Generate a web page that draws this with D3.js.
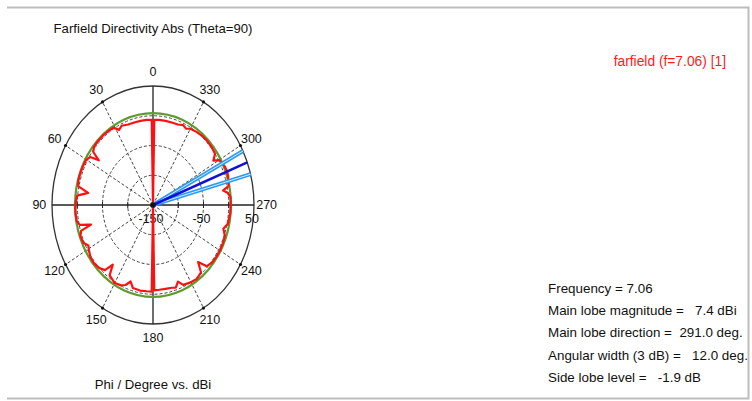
<!DOCTYPE html>
<html>
<head>
<meta charset="utf-8">
<script src="https://cdn.jsdelivr.net/npm/d3@7"></script>
<style>
  body { margin: 0; background: #fff; }
  text { font-family: "Liberation Sans", Arial, sans-serif; fill: #111; }
</style>
</head>
<body>
<svg id="chart"></svg>
<script>
// farfield cut, phi in degrees (counter-clockwise from top), directivity in dBi
const phiDeg = [0, 1, 5, 10, 15, 20, 25, 28, 31, 35, 40, 45, 50, 53, 55, 57, 60, 65, 70, 75, 78, 81, 84, 90,
  95, 100, 103, 105, 107, 110, 115, 118, 121, 125, 130, 135, 139, 141.5, 144, 150, 155, 158, 161, 164, 170, 175, 179, 180,
  181, 185, 190, 195, 198, 201, 204, 210, 215, 220, 223, 226, 230, 235, 240, 245, 250, 254, 258, 265, 270,
  275, 278, 280, 282, 285, 288, 291, 294, 297, 300, 302, 305, 310, 315, 320, 325, 330, 333, 336, 340, 345, 350, 355, 359, 360];
const directivityDb = [-150, -7, -6.5, -6.5, -6.5, -6, -3, -7, 1.5, 2.5, 3, 3, 2.5, -2, -19, -2, 2.5, 3.5, 3.5, 3.5, 1, -20, 1, 4,
  4, 3.5, -1, -23, -1, 3, 1.5, -5, -2, 1.5, 2.5, 0, -5, -22, -4, 1.5, -1, -5, -14, -5, -4, -4.5, -4.5, -150,
  -6.5, -7, -7, -6, -4, -12, -3, 0, 1.5, -2, -19, -2, 1.5, 2.5, 3, 2.5, 1.5, -5, 1.5, 3.5, 4,
  4, -1, -9, 3, 4.4, 6.5, 7.4, 6.5, 4.4, 1, -9, 0, 1.5, 2, 1.5, 0, -2, -6, -3, -6, -6.5, -6.5, -6.5, -7, -150];

const mainLobeDir = 291.0;
const beamEdges = [285, 297];      // 3 dB angular width limits
const halfPowerLevel = 4.4;        // main lobe - 3 dB
const angleTicks = [0, 30, 60, 90, 120, 150, 180, 210, 240, 270, 300, 330];
const radialTicks = [-150, -100, -50, 0, 50];
const radialLabels = [-150, -50, 50];
const infoLines = ["Frequency = 7.06", "Main lobe magnitude =   7.4 dBi", "Main lobe direction =  291.0 deg.",
  "Angular width (3 dB) =   12.0 deg.", "Side lobe level =   -1.9 dB"];

const W = 752, H = 401;
const cx = 153, cy = 205, rx = 101, ry = 119;

const svg = d3.select("#chart").attr("width", W).attr("height", H);

const r = d3.scaleLinear().domain([-150, 50]).range([0, 1]).clamp(true);
const px = (phi, f) => cx - rx * f * Math.sin(phi * Math.PI / 180);
const py = (phi, f) => cy - ry * f * Math.cos(phi * Math.PI / 180);

// frame
svg.append("path")
  .attr("d", `M7,7.5 H748.5 V398.5 H7`)
  .attr("fill", "none").attr("stroke", "#bdbdbd").attr("stroke-width", 2);

const g = svg.append("g");

// dashed grid ellipses
g.selectAll(".grid")
  .data(radialTicks.slice(1, -1))
  .enter().append("ellipse")
  .attr("cx", cx).attr("cy", cy)
  .attr("rx", d => rx * r(d)).attr("ry", d => ry * r(d))
  .attr("fill", "none").attr("stroke", "#444").attr("stroke-width", 1)
  .attr("stroke-dasharray", "3,2");

// dashed spokes
g.selectAll(".spoke")
  .data(angleTicks.filter(a => a % 90 !== 0))
  .enter().append("line")
  .attr("x1", cx).attr("y1", cy)
  .attr("x2", d => px(d, 1)).attr("y2", d => py(d, 1))
  .attr("stroke", "#444").attr("stroke-width", 1)
  .attr("stroke-dasharray", "3,2");

// outer ellipse
g.append("ellipse")
  .attr("cx", cx).attr("cy", cy).attr("rx", rx).attr("ry", ry)
  .attr("fill", "none").attr("stroke", "#333").attr("stroke-width", 1.3);

// solid axes
[0, 90].forEach(a => {
  g.append("line")
    .attr("x1", px(a, 1)).attr("y1", py(a, 1))
    .attr("x2", px(a + 180, 1)).attr("y2", py(a + 180, 1))
    .attr("stroke", "#222").attr("stroke-width", 1.3);
});

// ticks on horizontal axis
g.selectAll(".rtick")
  .data(radialTicks.slice(1, -1).flatMap(d => [[90, d], [270, d]]))
  .enter().append("line")
  .attr("x1", d => px(d[0], r(d[1]))).attr("x2", d => px(d[0], r(d[1])))
  .attr("y1", cy - 3).attr("y2", cy + 3)
  .attr("stroke", "#222").attr("stroke-width", 1);

// dots on outer ring at spokes
g.selectAll(".dot")
  .data(angleTicks.filter(a => a % 90 !== 0))
  .enter().append("circle")
  .attr("cx", d => px(d, 1)).attr("cy", d => py(d, 1)).attr("r", 1.6)
  .attr("fill", "#111");

// angle labels
g.selectAll(".alab")
  .data(angleTicks)
  .enter().append("text")
  .attr("x", d => px(d, 1.125)).attr("y", d => py(d, 1.115))
  .attr("text-anchor", "middle").attr("dominant-baseline", "central")
  .style("font-size", "12.5px")
  .text(d => d);

// radial labels
g.selectAll(".rlab")
  .data(radialLabels)
  .enter().append("text")
  .attr("x", d => px(270, r(d)) - 2).attr("y", cy + 18)
  .attr("text-anchor", "middle")
  .style("font-size", "12.5px")
  .text(d => d);

// half power level
g.append("ellipse")
  .attr("cx", cx).attr("cy", cy)
  .attr("rx", rx * r(halfPowerLevel)).attr("ry", ry * r(halfPowerLevel))
  .attr("fill", "none").attr("stroke", "#5f9a2e").attr("stroke-width", 2.2);

// farfield curve
const pts = phiDeg.map((p, i) => [p, directivityDb[i]]);
const line = d3.line()
  .x(d => px(d[0], r(d[1])))
  .y(d => py(d[0], r(d[1])));
g.append("path")
  .attr("d", line(pts))
  .attr("fill", "none").attr("stroke", "#ff1010").attr("stroke-width", 2.2)
  .attr("stroke-linejoin", "round");

// beam width lines
beamEdges.forEach(a => {
  g.append("line")
    .attr("x1", cx).attr("y1", cy).attr("x2", px(a, 1)).attr("y2", py(a, 1))
    .attr("stroke", "#2b9af0").attr("stroke-width", 4);
  g.append("line")
    .attr("x1", cx).attr("y1", cy).attr("x2", px(a, 1)).attr("y2", py(a, 1))
    .attr("stroke", "#d8ecff").attr("stroke-width", 1);
});
g.append("line")
  .attr("x1", cx).attr("y1", cy).attr("x2", px(mainLobeDir, 1)).attr("y2", py(mainLobeDir, 1))
  .attr("stroke", "#1010d8").attr("stroke-width", 2.5);

g.append("circle").attr("cx", cx).attr("cy", cy).attr("r", 2.8).attr("fill", "#111");

// texts
svg.append("text").attr("x", cx).attr("y", 33).attr("text-anchor", "middle")
  .style("font-size", "13.2px").text("Farfield Directivity Abs (Theta=90)");
svg.append("text").attr("x", cx).attr("y", 389).attr("text-anchor", "middle")
  .style("font-size", "13.2px").text("Phi / Degree vs. dBi");
svg.append("text").attr("x", 726).attr("y", 66).attr("text-anchor", "end")
  .style("font-size", "13.8px").style("fill", "#ff1a1a").text("farfield (f=7.06) [1]");

svg.selectAll(".info")
  .data(infoLines)
  .enter().append("text")
  .attr("x", 548).attr("y", (d, i) => 293 + i * 22.2)
  .style("font-size", "13.4px").style("white-space", "pre")
  .text(d => d);
</script>
</body>
</html>
